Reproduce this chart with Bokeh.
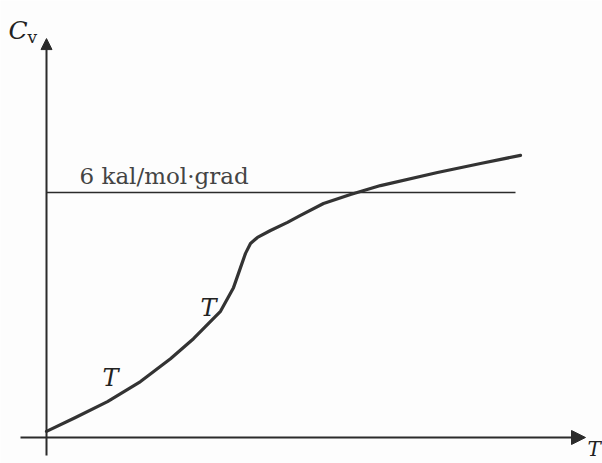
from bokeh.plotting import figure
from bokeh.models import Arrow, NormalHead, Range1d
from bokeh.core.properties import value
from bokeh.embed import file_html
from bokeh.resources import INLINE

# Heat capacity C_v against temperature T (arbitrary T units, C_v in kal/mol·grad)
temp = [0.0, 0.58, 1.22, 1.88, 2.48, 2.94, 3.48, 3.74, 3.88, 3.98, 4.08, 4.22,
        4.48, 4.82, 5.08, 5.54, 6.08, 6.68, 7.82, 8.68, 9.48]
cv = [0.15, 0.49, 0.88, 1.37, 1.93, 2.42, 3.09, 3.67, 4.16, 4.51, 4.75, 4.90,
      5.07, 5.27, 5.44, 5.73, 5.95, 6.17, 6.49, 6.71, 6.91]

# Dulong-Petit limit
limit_value = 6.0
limit_end = 9.38
limit_label = "6 kal/mol·grad"

ink = "#2b2b2b"
serif = "DejaVu Serif"

p = figure(width=602, height=463, output_backend="svg", toolbar_location=None,
           x_range=Range1d(-0.92, 11.12), y_range=Range1d(-0.637, 10.703),
           min_border=0, background_fill_color="#fdfdfd",
           border_fill_color="#fdfdfd")
p.axis.visible = False
p.grid.visible = False
p.outline_line_color = None

# axes drawn as arrows
p.add_layout(Arrow(x_start=-0.52, y_start=0, x_end=10.78, y_end=0,
                   line_color=ink, line_width=2,
                   end=NormalHead(size=14, fill_color=ink, line_color=ink)))
p.add_layout(Arrow(x_start=0, y_start=-0.44, x_end=0, y_end=9.77,
                   line_color=ink, line_width=2,
                   end=NormalHead(size=11, fill_color=ink, line_color=ink)))

# classical limit line
p.line([0, limit_end], [limit_value, limit_value], line_color=ink, line_width=1.6)
p.text(x=[0.66], y=[6.40], text=[limit_label], text_font=value(serif),
       text_font_size="23px", text_color="#444444", text_baseline="alphabetic")

# C_v(T) curve
p.line(temp, cv, line_color="#333333", line_width=3.2, line_join="round",
       line_cap="round")

# curve annotations
p.text(x=[1.12, 3.08], y=[1.445, 3.16], text=["T", "T"], text_font=value(serif),
       text_font_style="italic", text_font_size="24px", text_color="#222222",
       text_baseline="alphabetic")

# axis titles
p.text(x=[-0.76], y=[9.97], text=["C"], text_font=value(serif),
       text_font_style="italic", text_font_size="25px", text_color="#222222",
       text_baseline="alphabetic")
p.text(x=[-0.38], y=[9.80], text=["v"], text_font=value(serif),
       text_font_size="17px", text_color="#222222", text_baseline="alphabetic")
p.text(x=[10.82], y=[-0.27], text=["T"], text_font=value(serif),
       text_font_style="italic", text_font_size="20px", text_color="#222222",
       text_baseline="alphabetic")

open("out.html", "w").write(file_html(p, INLINE))
